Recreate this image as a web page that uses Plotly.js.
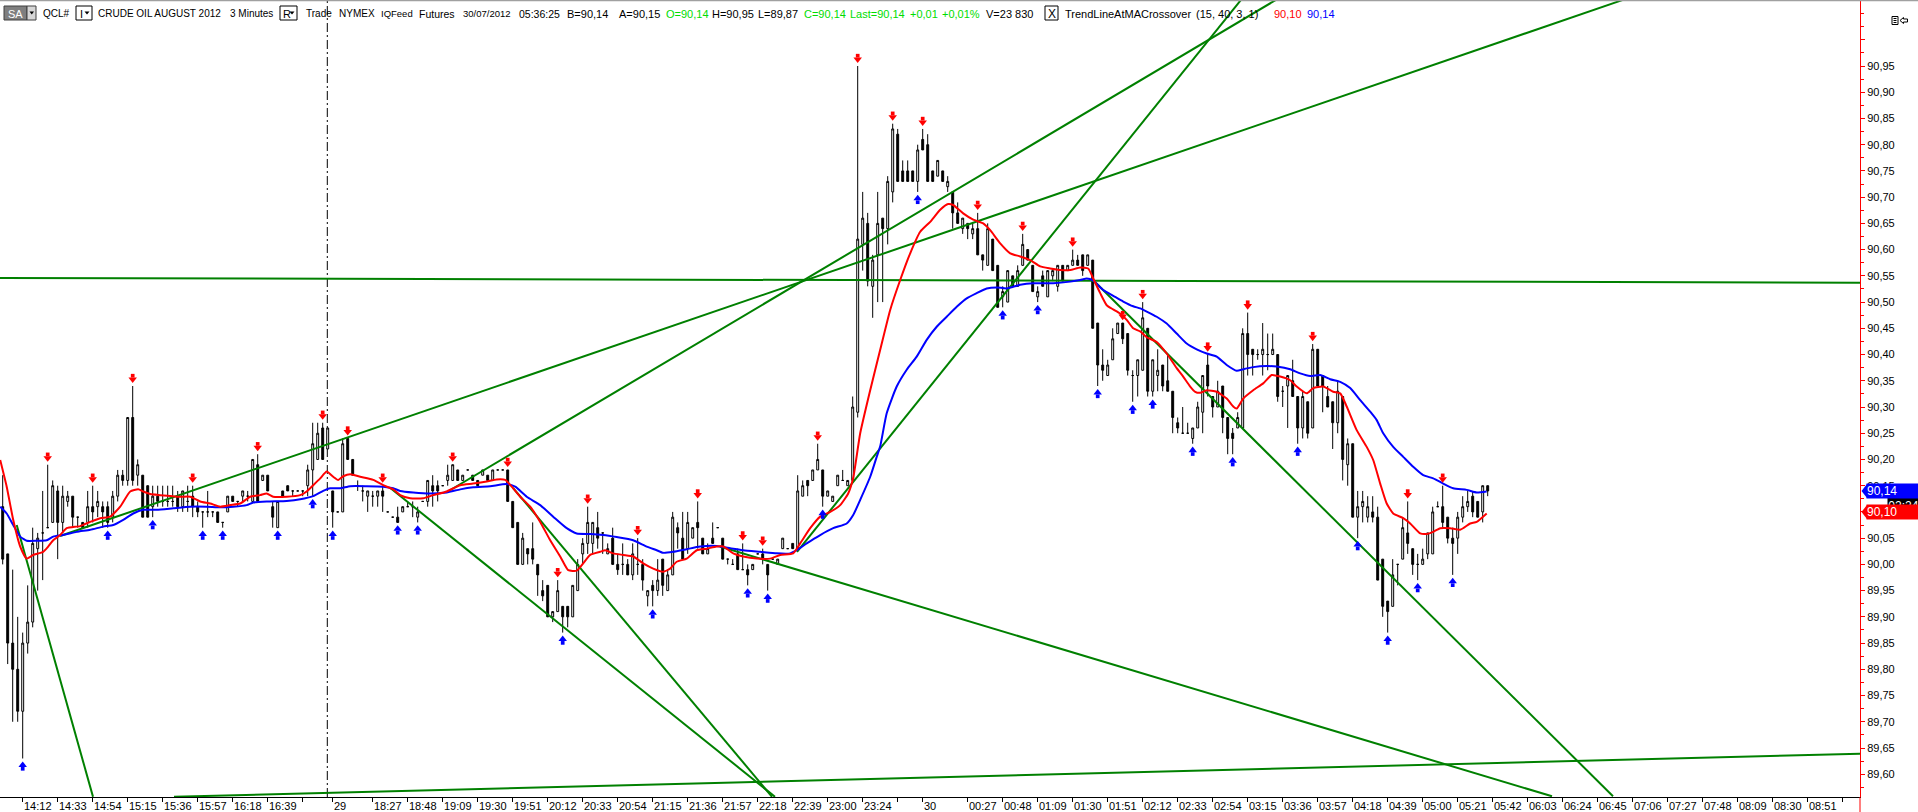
<!DOCTYPE html>
<html><head><meta charset="utf-8">
<script src="https://cdn.plot.ly/plotly-3.0.1.min.js"></script>
<style>html,body{margin:0;padding:0;background:#fff;overflow:hidden}#chart{width:1918px;height:812px}</style>
</head><body><div id="chart"></div>
<script>
// ---------------- DATA ----------------
const firstBarIndex = -4;   // bar index of the first candle (14:12 bar = 0)
const barOpen = [90.11,90.02,89.85,89.80,
89.72,89.85,89.89,90.03,90.06,90.07,90.08,90.14,90.08,90.12,
90.13,90.09,90.08,90.08,90.11,90.11,90.11,90.11,90.09,90.13,
90.17,90.16,90.28,90.17,90.17,90.15,90.11,90.13,90.12,90.12,
90.12,90.13,90.11,90.12,90.13,90.11,90.10,90.10,90.10,90.10,
90.08,90.10,90.13,90.12,90.13,90.13,90.12,90.19,90.16,90.17,
90.11,90.07,90.14,90.15,90.14,90.14,90.14,90.15,90.18,90.20,
90.26,90.22,90.14,90.10,90.10,90.24,90.20,90.15,90.14,90.13,
90.13,90.13,90.14,90.10,90.09,90.09,90.10,90.11,90.11,90.09,
90.12,90.12,90.15,90.15,90.15,90.16,90.16,90.18,90.16,90.18,
90.17,90.16,90.17,90.17,90.16,90.18,90.18,90.18,90.12,90.08,
90.00,90.03,90.03,90.00,89.95,89.96,89.90,89.91,89.92,89.92,
89.90,89.95,90.02,90.04,90.04,90.07,90.06,90.02,90.05,90.00,
90.00,90.00,89.98,90.00,90.00,89.94,89.96,89.95,90.01,89.95,
89.98,90.07,90.05,90.03,90.05,90.08,90.05,90.02,90.05,90.07,
90.05,90.01,90.00,90.02,89.99,89.99,89.99,90.02,90.02,90.00,
90.01,90.00,90.03,90.03,90.04,90.03,90.13,90.16,90.16,90.18,
90.18,90.13,90.12,90.15,90.16,90.15,90.16,90.29,90.61,90.65,
90.53,90.59,90.66,90.64,90.71,90.82,90.75,90.75,90.75,90.73,
90.81,90.80,90.75,90.74,90.75,90.72,90.71,90.67,90.64,90.65,
90.63,90.64,90.59,90.57,90.62,90.57,90.51,90.50,90.55,90.53,
90.57,90.60,90.57,90.51,90.55,90.51,90.55,90.53,90.57,90.56,
90.57,90.58,90.59,90.57,90.58,90.46,90.38,90.36,90.39,90.44,
90.46,90.44,90.36,90.36,90.37,90.45,90.33,90.36,90.38,90.35,
90.33,90.27,90.25,90.25,90.24,90.26,90.29,90.38,90.32,90.30,
90.34,90.28,90.25,90.26,90.26,90.44,90.41,90.40,90.40,90.40,
90.40,90.40,90.33,90.34,90.35,90.32,90.26,90.31,90.26,90.41,
90.36,90.32,90.31,90.27,90.32,90.19,90.23,90.09,90.11,90.09,
90.10,90.09,90.01,89.93,89.92,90.00,90.01,90.06,90.03,90.00,
90.00,90.02,90.02,90.11,90.11,90.09,90.05,90.05,90.09,90.11,
90.13,90.12,90.10,90.15];
const barHigh = [90.17,90.02,89.99,89.90,
89.87,89.96,90.07,90.06,90.14,90.19,90.16,90.15,90.15,90.14,
90.13,90.09,90.08,90.14,90.15,90.14,90.12,90.12,90.14,90.18,
90.18,90.28,90.34,90.20,90.17,90.15,90.15,90.15,90.15,90.15,
90.15,90.14,90.14,90.15,90.15,90.12,90.10,90.14,90.10,90.10,
90.08,90.13,90.13,90.12,90.14,90.14,90.20,90.21,90.17,90.17,
90.12,90.12,90.14,90.15,90.14,90.14,90.14,90.19,90.27,90.27,
90.27,90.26,90.14,90.10,90.24,90.24,90.20,90.16,90.15,90.14,
90.14,90.14,90.15,90.10,90.09,90.11,90.11,90.12,90.12,90.11,
90.12,90.16,90.17,90.16,90.15,90.19,90.19,90.18,90.17,90.18,
90.17,90.16,90.18,90.17,90.18,90.18,90.18,90.18,90.12,90.08,
90.06,90.03,90.08,90.00,89.97,89.96,89.91,89.97,89.92,89.92,
89.96,90.01,90.05,90.11,90.08,90.10,90.06,90.04,90.07,90.02,
90.04,90.01,90.04,90.05,90.01,89.95,89.97,90.01,90.01,89.99,
90.10,90.08,90.10,90.10,90.07,90.12,90.05,90.04,90.08,90.07,
90.05,90.01,90.01,90.03,90.04,90.00,90.00,90.02,90.03,90.00,
90.01,90.01,90.05,90.03,90.04,90.17,90.16,90.16,90.18,90.23,
90.18,90.14,90.13,90.17,90.18,90.16,90.32,90.95,90.71,90.67,
90.59,90.71,90.66,90.74,90.84,90.83,90.77,90.77,90.75,90.80,
90.83,90.82,90.75,90.77,90.75,90.74,90.71,90.69,90.66,90.65,
90.65,90.67,90.59,90.65,90.62,90.57,90.53,90.56,90.55,90.57,
90.63,90.60,90.57,90.53,90.56,90.56,90.56,90.57,90.57,90.57,
90.60,90.59,90.59,90.59,90.58,90.46,90.41,90.39,90.45,90.46,
90.46,90.44,90.37,90.39,90.50,90.45,90.39,90.41,90.38,90.40,
90.33,90.28,90.30,90.27,90.26,90.31,90.36,90.40,90.32,90.35,
90.34,90.28,90.26,90.29,90.45,90.48,90.41,90.41,90.46,90.44,
90.44,90.40,90.34,90.36,90.39,90.32,90.33,90.31,90.42,90.41,
90.36,90.34,90.31,90.35,90.32,90.24,90.23,90.14,90.14,90.13,
90.13,90.11,90.01,89.93,90.01,90.00,90.09,90.12,90.03,90.02,
90.03,90.06,90.11,90.12,90.15,90.09,90.07,90.10,90.13,90.14,
90.14,90.12,90.15,90.15];
const barLow = [90.00,89.81,89.70,89.70,
89.63,89.83,89.88,89.95,89.97,90.07,90.08,90.01,90.06,90.11,
90.07,90.07,90.07,90.07,90.08,90.09,90.07,90.07,90.08,90.12,
90.15,90.15,90.15,90.15,90.09,90.09,90.09,90.11,90.11,90.11,
90.11,90.10,90.10,90.10,90.09,90.09,90.07,90.09,90.09,90.08,
90.07,90.10,90.12,90.11,90.12,90.12,90.12,90.12,90.16,90.14,
90.07,90.07,90.13,90.14,90.13,90.14,90.13,90.13,90.13,90.20,
90.20,90.22,90.07,90.10,90.10,90.20,90.17,90.14,90.12,90.10,
90.11,90.11,90.10,90.10,90.09,90.08,90.10,90.11,90.09,90.08,
90.12,90.11,90.11,90.12,90.15,90.15,90.16,90.16,90.16,90.18,
90.16,90.15,90.17,90.16,90.16,90.18,90.18,90.12,90.07,90.00,
90.00,90.00,90.00,89.94,89.93,89.90,89.89,89.91,89.87,89.88,
89.90,89.95,90.00,90.02,90.02,90.03,90.02,90.02,90.00,89.98,
89.98,89.98,89.97,89.98,89.95,89.92,89.92,89.94,89.94,89.95,
89.98,90.03,90.01,90.02,90.05,90.03,90.02,90.02,90.04,90.07,
90.01,90.00,90.00,89.99,89.99,89.96,89.99,90.02,90.00,89.95,
90.01,90.00,90.03,90.03,90.03,90.03,90.13,90.13,90.16,90.18,
90.11,90.13,90.12,90.15,90.16,90.15,90.16,90.28,90.56,90.53,
90.47,90.50,90.50,90.61,90.69,90.73,90.73,90.73,90.73,90.71,
90.79,90.73,90.73,90.74,90.73,90.71,90.64,90.65,90.63,90.62,
90.62,90.59,90.56,90.57,90.56,90.49,90.49,90.50,90.53,90.53,
90.57,90.58,90.52,90.50,90.53,90.51,90.54,90.52,90.54,90.56,
90.57,90.57,90.55,90.57,90.45,90.34,90.35,90.36,90.39,90.44,
90.42,90.36,90.31,90.32,90.37,90.32,90.32,90.33,90.33,90.33,
90.25,90.25,90.25,90.25,90.23,90.26,90.25,90.32,90.28,90.30,
90.25,90.21,90.21,90.26,90.26,90.36,90.36,90.39,90.36,90.37,
90.40,90.31,90.30,90.26,90.32,90.23,90.24,90.24,90.26,90.34,
90.29,90.30,90.22,90.25,90.16,90.15,90.09,90.05,90.08,90.08,
90.08,89.97,89.90,89.87,89.92,89.96,90.01,90.02,89.98,89.97,
90.00,90.01,90.02,90.11,90.07,90.04,89.98,90.02,90.08,90.10,
90.09,90.09,90.08,90.13];
const barClose = [90.01,89.85,89.80,89.72,
89.85,89.89,90.04,90.05,90.06,90.07,90.15,90.08,90.13,90.13,
90.09,90.09,90.07,90.11,90.10,90.12,90.10,90.08,90.13,90.17,
90.16,90.28,90.16,90.19,90.09,90.09,90.13,90.12,90.12,90.12,
90.12,90.11,90.14,90.12,90.11,90.10,90.10,90.10,90.10,90.08,
90.08,90.13,90.12,90.12,90.14,90.13,90.20,90.12,90.17,90.14,
90.09,90.12,90.13,90.14,90.14,90.14,90.14,90.18,90.23,90.25,
90.20,90.26,90.10,90.10,90.23,90.20,90.17,90.15,90.14,90.14,
90.13,90.14,90.13,90.10,90.09,90.08,90.11,90.11,90.11,90.10,
90.12,90.16,90.14,90.14,90.15,90.17,90.19,90.16,90.17,90.18,
90.16,90.15,90.18,90.16,90.18,90.18,90.18,90.12,90.07,90.00,
90.05,90.02,90.01,89.98,89.94,89.90,89.91,89.95,89.90,89.90,
89.96,90.00,90.04,90.08,90.08,90.05,90.06,90.03,90.00,89.99,
90.00,89.98,90.02,90.00,89.97,89.95,89.95,89.97,89.96,89.98,
90.09,90.06,90.01,90.08,90.07,90.07,90.02,90.03,90.04,90.07,
90.01,90.01,90.00,89.99,89.99,89.98,90.00,90.02,90.01,89.98,
90.01,90.01,90.05,90.03,90.03,90.14,90.15,90.15,90.18,90.20,
90.13,90.14,90.13,90.17,90.16,90.16,90.30,90.62,90.66,90.54,
90.58,90.65,90.64,90.73,90.83,90.73,90.73,90.73,90.73,90.79,
90.79,90.73,90.73,90.77,90.73,90.73,90.67,90.65,90.66,90.64,
90.64,90.59,90.58,90.64,90.56,90.49,90.52,90.56,90.53,90.56,
90.61,90.58,90.52,90.52,90.53,90.56,90.56,90.57,90.54,90.57,
90.58,90.57,90.56,90.59,90.45,90.38,90.37,90.38,90.43,90.46,
90.43,90.37,90.36,90.39,90.47,90.33,90.39,90.37,90.34,90.33,
90.28,90.26,90.25,90.25,90.26,90.30,90.36,90.34,90.30,90.33,
90.28,90.24,90.24,90.28,90.44,90.40,90.40,90.40,90.41,90.40,
90.41,90.32,90.33,90.36,90.32,90.26,90.32,90.25,90.41,90.34,
90.34,90.30,90.27,90.33,90.20,90.23,90.09,90.11,90.12,90.11,
90.09,89.97,89.92,89.91,89.98,90.00,90.07,90.04,90.00,90.00,
90.01,90.06,90.10,90.11,90.08,90.05,90.04,90.09,90.11,90.12,
90.10,90.09,90.15,90.14];

// Moving averages (bar index, price)
const fastMAIndex = [-4.5,-3.2,-1.9,-0.5,0.8,2.1,4.1,5.1,6.1,7.5,8.8,11.5,13.5,15.5,17.5,19.5,21.5,23.1,24.1,25.5,27.5,31.5,33.5,35.5,37.5,39.5,41.5,43.5,45.5,47.5,48.8,50.1,52.8,55.5,56.8,58.1,59.5,60.8,62.1,63.1,64.1,65.5,67.5,70.1,72.1,74.1,75.5,77.5,80.1,82.1,84.8,87.5,90.1,92.8,94.8,96.5,98.1,
99.5,101.5,103.5,105.5,107.5,109.1,110.8,112.1,113.5,115.5,116.5,118.1,120.1,122.1,124.1,126.1,128.1,129.5,130.8,132.8,134.8,136.8,138.8,140.1,142.1,144.1,146.8,149.5,151.5,154.1,155.5,157.5,159.5,161.5,163.5,165.1,
166.1,167.5,169.5,171.5,173.5,175.5,177.5,179.5,181.5,183.5,185.1,186.1,188.1,190.1,192.1,193.5,195.5,197.5,199.5,201.5,203.5,205.5,207.5,209.5,211.5,213.1,
214.1,215.5,216.8,218.1,219.5,220.8,222.1,223.5,224.8,226.8,228.8,230.8,232.1,233.5,234.5,235.5,236.8,238.8,240.8,242.1,242.8,244.1,246.1,248.1,249.8,251.5,253.5,254.8,256.8,258.1,260.1,262.1,263.5,264.8,266.8,268.8,270.1,271.5,272.8,274.1,276.1,277.5,279.5,280.8,282.1,283.5,285.5,287.5,289.5,290.8,292.8];
const fastMAValue = [90.199,90.148,90.085,90.034,90.011,90.018,90.024,90.034,90.046,90.056,90.069,90.073,90.081,90.088,90.091,90.110,90.139,90.143,90.139,90.134,90.132,90.129,90.129,90.120,90.116,90.110,90.113,90.116,90.129,90.132,90.135,90.129,90.129,90.132,90.139,90.151,90.164,90.177,90.167,90.161,90.168,90.172,90.167,90.161,90.151,90.143,90.132,90.126,90.126,90.132,90.139,90.151,90.154,90.158,90.162,90.161,90.145,
90.129,90.110,90.081,90.046,90.015,89.989,89.988,90.002,90.018,90.024,90.027,90.021,90.018,90.015,90.002,89.992,89.986,89.992,90.005,90.011,90.027,90.030,90.034,90.034,90.021,90.015,90.011,90.011,90.018,90.021,90.040,90.069,90.091,90.100,90.113,90.135,
90.165,90.250,90.332,90.409,90.485,90.542,90.593,90.634,90.653,90.676,90.687,90.685,90.669,90.657,90.650,90.637,90.612,90.593,90.587,90.580,90.568,90.564,90.561,90.561,90.566,90.564,
90.545,90.517,90.494,90.486,90.478,90.466,90.450,90.444,90.433,90.424,90.402,90.374,90.358,90.339,90.329,90.327,90.332,90.329,90.316,90.301,90.297,90.316,90.332,90.345,90.361,90.358,90.351,90.339,90.326,90.336,90.339,90.329,90.326,90.301,90.256,90.224,90.199,90.154,90.116,90.097,90.088,90.078,90.059,90.058,90.062,90.069,90.069,90.066,90.078,90.081,90.097];
const slowMAIndex = [-4.5,-3.2,-1.9,-0.5,0.8,2.8,4.8,6.1,8.1,10.8,13.5,16.1,18.1,20.1,22.1,24.1,26.8,30.1,33.5,36.8,39.5,42.1,44.8,46.1,48.8,52.8,55.5,58.1,60.1,61.5,63.5,65.5,68.8,72.1,74.1,75.5,78.1,81.5,84.8,87.5,90.1,93.5,96.8,98.5,
100.8,103.5,106.1,108.8,110.8,113.5,116.1,118.8,122.1,124.8,126.8,128.1,130.1,132.8,135.5,138.8,141.5,144.1,147.5,150.8,153.5,154.8,156.8,159.5,162.1,164.8,166.1,167.5,169.5,170.8,171.5,172.8,
174.8,176.8,178.8,180.8,182.8,184.8,186.8,188.8,190.8,192.8,194.8,196.8,199.5,202.1,206.1,209.5,211.5,212.8,214.1,
216.1,218.1,220.1,222.1,223.5,224.8,226.8,228.8,230.8,232.8,234.8,236.8,238.8,240.8,242.8,244.1,246.1,248.8,250.8,253.5,255.5,257.5,259.5,261.5,263.5,265.5,267.5,269.5,270.8,272.1,274.1,276.1,278.1,280.1,282.1,284.1,286.1,288.8,290.8,292.8];
const slowMAValue = [90.110,90.097,90.075,90.053,90.045,90.045,90.046,90.053,90.056,90.062,90.066,90.072,90.075,90.085,90.097,90.104,90.104,90.107,90.110,90.110,90.109,90.110,90.113,90.118,90.120,90.121,90.124,90.130,90.140,90.145,90.145,90.149,90.149,90.148,90.145,90.140,90.137,90.135,90.137,90.143,90.147,90.149,90.153,90.148,
90.129,90.113,90.091,90.069,90.059,90.058,90.056,90.052,90.046,90.034,90.027,90.022,90.024,90.029,90.034,90.035,90.031,90.027,90.024,90.021,90.021,90.027,90.040,90.056,90.069,90.078,90.094,90.123,90.167,90.205,90.225,90.288,
90.339,90.371,90.396,90.428,90.453,90.472,90.491,90.507,90.517,90.526,90.528,90.526,90.533,90.536,90.536,90.539,90.542,90.545,90.541,
90.523,90.512,90.501,90.492,90.488,90.482,90.472,90.459,90.440,90.421,90.410,90.402,90.396,90.380,90.369,90.372,90.376,90.378,90.377,90.372,90.364,90.359,90.361,90.353,90.348,90.336,90.313,90.291,90.275,90.250,90.224,90.205,90.186,90.170,90.164,90.154,90.145,90.142,90.137,90.139];
const lastFastValue = 90.10;
const lastSlowValue = 90.14;

// MA crossover signals (bar indices)
const sellSignalIndex = [5,14,22,34,47,60,65,72,86,97,107,113,123,135,144,148,159,167,174,180,191,200,210,220,224,237,245,258,277,284];
const buySignalIndex = [0,17,26,36,40,51,58,62,75,79,108,126,145,149,160,179,196,203,215,222,226,234,242,255,267,273,279,286];

// Trend lines drawn by the indicator (bar index, price)
const trendStartIndex = [-4.54,30.26,7.46,84.86,154.86,-1.2,73.46,98.06,139.46,214.06];
const trendStartPrice = [90.546,89.557,90.054,90.138,90.024,90.075,90.146,90.146,90.034,90.542];
const trendEndIndex   = [367.46,367.46,320.06,250.66,243.66,14.06,150.46,149.86,305.86,318.06];
const trendEndPrice   = [90.537,89.639,91.076,91.076,91.076,89.557,89.557,89.557,89.558,89.558];
const sessionStartIndex = 61;

// Axis ticks
const timeTickIndex = [0,7,14,21,28,35,42,49,56,62,70,77,84,91,98,105,112,119,126,133,140,147,154,161,168,175,180,189,196,203,210,217,224,231,238,245,252,259,266,273,280,287,294,301,308,315,322,329,336,343,350,357,364];
const timeTickText = ['14:12','14:33','14:54','15:15','15:36','15:57','16:18','16:39','','29','18:27','18:48','19:09','19:30','19:51','20:12','20:33','20:54','21:15','21:36','21:57','22:18','22:39','23:00','23:24','','30','00:27','00:48','01:09','01:30','01:51','02:12','02:33','02:54','03:15','03:36','03:57','04:18','04:39','05:00','05:21','05:42','06:03','06:24','06:45','07:06','07:27','07:48','08:09','08:30','08:51',''];
const priceTickValues = [89.60,89.65,89.70,89.75,89.80,89.85,89.90,89.95,90.00,90.05,90.10,90.15,90.20,90.25,90.30,90.35,90.40,90.45,90.50,90.55,90.60,90.65,90.70,90.75,90.80,90.85,90.90,90.95,91.00];
// 90,10 is hidden behind the red price tag in the original, 91,00 is not labelled
const priceTickText = ['89,60','89,65','89,70','89,75','89,80','89,85','89,90','89,95','90,00','90,05','','90,15','90,20','90,25','90,30','90,35','90,40','90,45','90,50','90,55','90,60','90,65','90,70','90,75','90,80','90,85','90,90','90,95',''];

// Header texts
const headerText = ['QCL#','I','CRUDE OIL AUGUST 2012','3 Minutes','R','Trade','NYMEX','IQFeed','Futures','30/07/2012','05:36:25','B=90,14','A=90,15','O=90,14','H=90,95','L=89,87','C=90,14','Last=90,14','+0,01','+0,01%','V=23 830','TrendLineAtMACrossover','(15, 40, 3, 1)','90,10','90,14'];
const countdownText = '02:24';

// ---------------- LAYOUT / STYLE ----------------
const PW = 1860, PH = 797;
const xRange = [-4.54, 367.46];
const yRange = [89.5566, 91.0758];
const FONT = 'Liberation Sans, Arial, sans-serif';
const GREEN = '#008000';
const px = x => x / PW;
const py = y => 1 - y / PH;
const ppp = (yRange[1] - yRange[0]) / PH;

const headerX = [42,79,97,228.6,282,305,338,379.5,418,462,518,566,618,665,711,757,803,848.7,908.6,941,984.8,1064,1194.6,1272.5,1305.5];
const headerSize = [10,11,10,10,11,10,10,9.5,10.5,9.5,10.5,11,11,11,11,11,11,11,11,11,11,11,11,11,11];
const headerColor = ['#000','#000','#000','#000','#000','#000','#000','#000','#000','#000','#000','#000','#000','#00dd00','#000','#000','#00dd00','#00dd00','#00dd00','#00dd00','#000','#000','#000','#ff0000','#0000ff'];

const barIndex = barOpen.map((_, i) => firstBarIndex + i);

const traces = [];
traces.push({
  type: 'candlestick', x: barIndex, open: barOpen, high: barHigh, low: barLow, close: barClose,
  increasing: {line: {color: '#000', width: 1}, fillcolor: '#fff'},
  decreasing: {line: {color: '#000', width: 1}, fillcolor: '#000'},
  whiskerwidth: 0, hoverinfo: 'skip', showlegend: false
});
const tx = [], ty = [];
for (let i = 0; i < trendStartIndex.length; i++) {
  tx.push(trendStartIndex[i], trendEndIndex[i], null);
  ty.push(trendStartPrice[i], trendEndPrice[i], null);
}
traces.push({type: 'scatter', mode: 'lines', x: tx, y: ty, line: {color: GREEN, width: 2}, hoverinfo: 'skip', connectgaps: false});
traces.push({type: 'scatter', mode: 'lines', x: slowMAIndex, y: slowMAValue, line: {color: '#0000ff', width: 2, shape: 'spline', smoothing: 0.5}, hoverinfo: 'skip'});
traces.push({type: 'scatter', mode: 'lines', x: fastMAIndex, y: fastMAValue, line: {color: '#ff0000', width: 2, shape: 'spline', smoothing: 0.5}, hoverinfo: 'skip'});

const hiOf = k => barHigh[k - firstBarIndex];
const loOf = k => barLow[k - firstBarIndex];
traces.push({type: 'scatter', mode: 'markers', x: sellSignalIndex, y: sellSignalIndex.map(k => hiOf(k) + 6.6 * ppp),
  marker: {symbol: 'triangle-down', size: 7.4, color: '#ff0000', line: {width: 0}}, hoverinfo: 'skip', cliponaxis: false});
traces.push({type: 'scatter', mode: 'markers', x: sellSignalIndex, y: sellSignalIndex.map(k => hiOf(k) + 10.3 * ppp),
  marker: {symbol: 'square', size: 3.7, color: '#ff0000', line: {width: 0}}, hoverinfo: 'skip', cliponaxis: false});
traces.push({type: 'scatter', mode: 'markers', x: buySignalIndex, y: buySignalIndex.map(k => loOf(k) - 6.6 * ppp),
  marker: {symbol: 'triangle-up', size: 7.4, color: '#0000ff', line: {width: 0}}, hoverinfo: 'skip', cliponaxis: false});
traces.push({type: 'scatter', mode: 'markers', x: buySignalIndex, y: buySignalIndex.map(k => loOf(k) - 10.3 * ppp),
  marker: {symbol: 'square', size: 3.7, color: '#0000ff', line: {width: 0}}, hoverinfo: 'skip', cliponaxis: false});

// shapes
const shapes = [];
function rectPx(x0, y0, x1, y1, fill, line) {
  shapes.push({type: 'rect', xref: 'paper', yref: 'paper', x0: px(x0), x1: px(x1), y0: py(y1), y1: py(y0),
    fillcolor: fill, line: {color: line, width: 1}, layer: 'above'});
}
function pathPx(pts, fill, line) {
  let d = pts.map((p, i) => (i ? 'L' : 'M') + px(p[0]).toFixed(6) + ',' + py(p[1]).toFixed(6)).join(' ') + ' Z';
  shapes.push({type: 'path', xref: 'paper', yref: 'paper', path: d, fillcolor: fill || 'rgba(0,0,0,0)', line: {color: line, width: line === 'rgba(0,0,0,0)' ? 0 : 1}, layer: 'above'});
}
function linePx(x0, y0, x1, y1, color, width) {
  shapes.push({type: 'line', xref: 'paper', yref: 'paper', x0: px(x0), x1: px(x1), y0: py(y0), y1: py(y1), line: {color: color, width: width}, layer: 'above'});
}
// session separator
shapes.push({type: 'line', xref: 'x', yref: 'paper', x0: sessionStartIndex - 0.08, x1: sessionStartIndex - 0.08, y0: 0, y1: 1,
  line: {color: '#000', width: 1, dash: '9px,3px,2px,3px'}, layer: 'below'});
// top grey border
linePx(0, 0.5, 1918, 0.5, '#a0a0a0', 1.5);
// red axis continuation below plot
linePx(1860, 797, 1860, 812, '#ff0000', 1);
// header boxes
rectPx(4, 6, 27, 20, '#7f7f7f', '#404040');
rectPx(27, 6, 36, 20, '#d6d6d6', '#404040');
pathPx([[29.5, 11.5], [34, 11.5], [31.75, 14.5]], '#000', 'rgba(0,0,0,0)');
rectPx(76, 6, 92, 20, '#fff', '#000');
pathPx([[84.5, 11.5], [89.5, 11.5], [87, 14.5]], '#000', 'rgba(0,0,0,0)');
rectPx(280, 6, 297, 20, '#fff', '#000');
pathPx([[289.5, 11.5], [294.5, 11.5], [292, 14.5]], '#000', 'rgba(0,0,0,0)');
rectPx(1045, 6, 1058, 20, '#fff', '#000');
// top-right icon
rectPx(1892, 16.5, 1898, 24.5, '#fff', '#000');
linePx(1893.5, 18.5, 1896.5, 18.5, '#000', 1);
linePx(1893.5, 20.5, 1896.5, 20.5, '#000', 1);
linePx(1893.5, 22.5, 1896.5, 22.5, '#000', 1);
pathPx([[1900, 20.5], [1903.5, 17.5], [1903.5, 19], [1907.5, 19], [1907.5, 22], [1903.5, 22], [1903.5, 23.5]], 'rgba(0,0,0,0)', '#000');
// price tag tips
function tagTip(price, color) {
  const h = 7 * ppp;
  shapes.push({type: 'path', xref: 'paper', yref: 'y',
    path: 'M' + px(1861.5) + ',' + price + ' L' + px(1867) + ',' + (price + h) + ' L' + px(1867) + ',' + (price - h) + ' Z',
    fillcolor: color, line: {width: 0}, layer: 'above'});
}
tagTip(lastSlowValue, '#0000ff');
tagTip(lastFastValue, '#ff0000');

// annotations
const annotations = [];
for (let i = 0; i < headerText.length; i++) {
  annotations.push({xref: 'paper', yref: 'paper', x: px(headerX[i]), y: py(13.5), xanchor: 'left', yanchor: 'middle',
    text: headerText[i], showarrow: false, borderpad: 0, font: {family: FONT, size: headerSize[i], color: headerColor[i]}});
}
annotations.push({xref: 'paper', yref: 'paper', x: px(7), y: py(13.5), xanchor: 'left', yanchor: 'middle', text: 'SA', showarrow: false, borderpad: 0, font: {family: FONT, size: 11, color: '#fff'}});
annotations.push({xref: 'paper', yref: 'paper', x: px(1051.5), y: py(13.5), xanchor: 'center', yanchor: 'middle', text: 'X', showarrow: false, borderpad: 0, font: {family: FONT, size: 12, color: '#000'}});
for (let i = 0; i < timeTickIndex.length; i++) {
  if (!timeTickText[i]) continue;
  annotations.push({xref: 'x', yref: 'paper', x: timeTickIndex[i], y: py(806.5), xanchor: 'left', yanchor: 'middle',
    text: timeTickText[i], showarrow: false, borderpad: 0, font: {family: FONT, size: 11, color: '#000'}});
}
// countdown box, then price tags
annotations.push({xref: 'paper', yref: 'paper', x: px(1887), y: py(506), xanchor: 'left', yanchor: 'middle', text: countdownText,
  showarrow: false, bgcolor: '#000', width: 31, height: 16, borderpad: 0, align: 'center', font: {family: FONT, size: 12, color: '#fff'}});
annotations.push({xref: 'paper', yref: 'y', x: px(1866), y: lastSlowValue, xanchor: 'left', yanchor: 'middle', text: '90,14',
  showarrow: false, bgcolor: '#0000ff', width: 52, height: 14, borderpad: 0, align: 'left', font: {family: FONT, size: 12, color: '#fff'}});
annotations.push({xref: 'paper', yref: 'y', x: px(1866), y: lastFastValue, xanchor: 'left', yanchor: 'middle', text: '90,10',
  showarrow: false, bgcolor: '#ff0000', width: 52, height: 14, borderpad: 0, align: 'left', font: {family: FONT, size: 12, color: '#fff'}});

const layout = {
  width: 1918, height: 812,
  margin: {l: 0, r: 58, t: 0, b: 15, pad: 0},
  paper_bgcolor: '#fff', plot_bgcolor: '#fff',
  showlegend: false, separators: ',.', boxgap: 0.45, hovermode: false,
  xaxis: {range: xRange, rangeslider: {visible: false}, tickmode: 'array', tickvals: timeTickIndex, showticklabels: false,
    ticks: 'outside', ticklen: 4, tickcolor: '#000', tickwidth: 1, showline: true, linecolor: '#000', linewidth: 1,
    showgrid: false, zeroline: false, automargin: false, fixedrange: true},
  yaxis: {side: 'right', range: yRange, tickmode: 'array', tickvals: priceTickValues, ticktext: priceTickText,
    ticks: 'outside', ticklen: 4, tickcolor: '#ff0000', tickwidth: 1, showline: true, linecolor: '#ff0000', linewidth: 1,
    showgrid: false, zeroline: false, automargin: false, fixedrange: true,
    tickfont: {family: FONT, size: 11, color: '#000'},
    minor: {dtick: 0.025, tick0: 89.5, ticks: 'outside', ticklen: 3, tickcolor: '#ff0000', tickwidth: 1, showgrid: false}},
  shapes: shapes, annotations: annotations
};
Plotly.newPlot('chart', traces, layout, {staticPlot: true, displayModeBar: false});
</script></body></html>
